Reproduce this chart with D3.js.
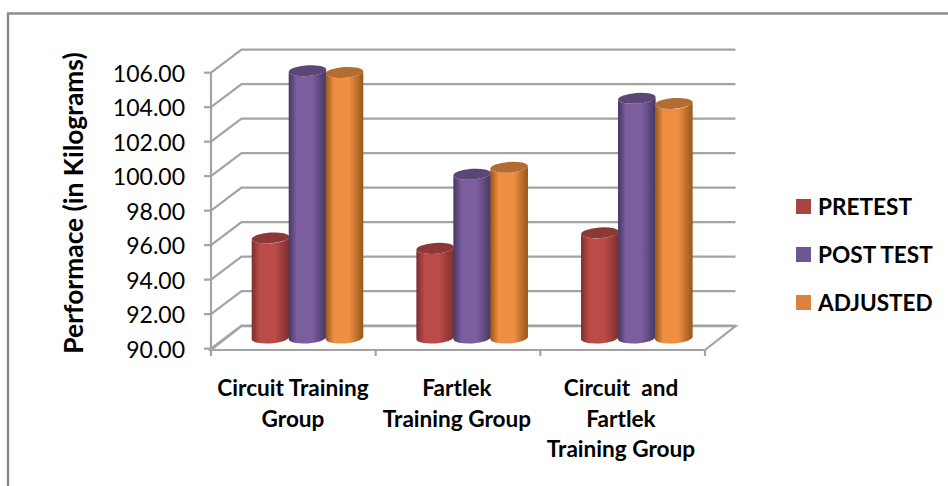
<!DOCTYPE html>
<html>
<head>
<meta charset="utf-8">
<script src="https://cdn.jsdelivr.net/npm/d3@7"></script>
<style>
html,body{margin:0;padding:0;background:#fff}
svg{display:block}
text{font-family:Lato,"Open Sans",sans-serif;fill:#000}
</style>
</head>
<body>
<svg id="chart" width="948" height="486"></svg>
<script>
// Performance by training group, drawn as a pseudo-3D cylinder chart
const groupLabels = [
  ["Circuit Training", "Group"],
  ["Fartlek", "Training Group"],
  ["Circuit  and", "Fartlek", "Training Group"]
];
const groupKeys = ["circuit", "fartlek", "combined"];
const seriesNames = ["PRETEST", "POST TEST", "ADJUSTED"];
const pretest = [95.8, 95.2, 96.1];
const postTest = [105.5, 99.5, 103.9];
const adjusted = [105.4, 99.9, 103.6];
const seriesValues = [pretest, postTest, adjusted];
const yTicks = [90, 92, 94, 96, 98, 100, 102, 104, 106];

const edgeColors = ["#7c2f2d", "#463763", "#96571c"];
const midColors = ["#ba4b48", "#7c5e9f", "#ee8f42"];
const capColors = ["#8b3836", "#5a4775", "#b26d30"];
const legendColors = ["#a94442", "#705593", "#dc823a"];

const svg = d3.select("#chart");
const GRID = "#a3a3a3";

// Chart frame runs off the right and bottom of the page
svg.append("rect").attr("x", 8).attr("y", 13.5).attr("width", 960).attr("height", 500)
  .attr("fill", "#fff").attr("stroke", "#8a8a8a").attr("stroke-width", 2.4);

const depthX = 30.5, depthY = 23;
const y = d3.scaleLinear().domain([90, 106]).range([348.6, 72.7]);
const x = d3.scaleBand().domain(groupKeys).range([211, 705]).paddingInner(0).paddingOuter(0);
const barSlot = d3.scaleBand().domain(seriesNames).range([0, 111]);

// Floor of the 3D box
svg.append("path")
  .attr("d", `M${x.range()[0]},350 L${x.range()[1]},350 L${x.range()[1] + depthX},${350 - depthX * 0.78} L${x.range()[0] + depthX},${350 - depthX * 0.78} Z`)
  .attr("fill", "none").attr("stroke", GRID).attr("stroke-width", 2.2);

// Back wall and side wall gridlines
const grid = svg.append("g").attr("fill", "none").attr("stroke", GRID).attr("stroke-width", 2.2);
yTicks.forEach(t => {
  grid.append("polyline").attr("points", [
    [x.range()[0], y(t)],
    [x.range()[0] + depthX, y(t) - depthY],
    [x.range()[1] + depthX, y(t) - depthY]
  ].map(p => p.join(",")).join(" "));
  grid.append("line").attr("x1", x.range()[0] - 7).attr("x2", x.range()[0])
    .attr("y1", y(t)).attr("y2", y(t));
});
grid.append("line").attr("x1", 211).attr("x2", 211).attr("y1", y(106)).attr("y2", 356);

// Category ticks under the floor
[...groupKeys.map(k => x(k)), x.range()[1]].forEach(px => {
  if (px === x.range()[0]) return;
  grid.append("line").attr("x1", px).attr("x2", px).attr("y1", 350).attr("y2", 356);
});

// Value axis labels
svg.append("g").selectAll("text").data(yTicks).join("text")
  .attr("x", 185).attr("y", d => y(d) + 9)
  .attr("text-anchor", "end").attr("font-size", 23)
  .text(d => d3.format(".2f")(d));

// Horizontal shading that gives each cylinder its round look
const defs = svg.append("defs");
seriesNames.forEach((s, i) => {
  const g = defs.append("linearGradient").attr("id", "cyl" + i)
    .attr("x1", 0).attr("x2", 1).attr("y1", 0).attr("y2", 0);
  g.append("stop").attr("offset", "0%").attr("stop-color", edgeColors[i]);
  g.append("stop").attr("offset", "22%").attr("stop-color", midColors[i]);
  g.append("stop").attr("offset", "62%").attr("stop-color", midColors[i]);
  g.append("stop").attr("offset", "100%").attr("stop-color", edgeColors[i]);
});

const rx = 18.8, ry = 5.4, tilt = -4;
const dyTilt = rx * Math.sin(-tilt * Math.PI / 180);
const baseY = y(90) - 10.6;
const valueOffset = baseY - y(90);

groupKeys.forEach((k, gi) => {
  const g = svg.append("g");
  seriesNames.forEach((s, si) => {
    const cx = x(k) + 41 + barSlot(s) + barSlot.bandwidth() / 2;
    const topY = y(seriesValues[si][gi]) + valueOffset;
    g.append("path")
      .attr("d", `M${cx - rx},${topY + dyTilt} L${cx - rx},${baseY + dyTilt}
        A${rx},${ry} ${tilt} 0 0 ${cx + rx},${baseY - dyTilt}
        L${cx + rx},${topY - dyTilt}
        A${rx},${ry} ${tilt} 0 1 ${cx - rx},${topY + dyTilt} Z`)
      .attr("fill", `url(#cyl${si})`);
    g.append("ellipse")
      .attr("cx", cx).attr("cy", topY).attr("rx", rx).attr("ry", ry)
      .attr("transform", `rotate(${tilt} ${cx} ${topY})`)
      .attr("fill", capColors[si]);
  });
});

// Category labels, one text element per line
const catX = [293, 457, 621];
const labels = svg.append("g").attr("font-weight", 700);
groupLabels.forEach((lines, gi) => {
  lines.forEach((line, li) => {
    labels.append("text")
      .attr("x", catX[gi]).attr("y", 396 + li * 30.5)
      .attr("text-anchor", "middle").attr("font-size", 22.6)
      .attr("xml:space", "preserve").style("white-space", "pre")
      .text(line);
  });
});

// Value axis title
svg.append("text")
  .attr("transform", "translate(82.5,203) rotate(-90)")
  .attr("text-anchor", "middle").attr("font-size", 26.4).attr("font-weight", 700)
  .text("Performace (in Kilograms)");

// Legend
const legend = svg.append("g");
const legendY = d3.scalePoint().domain(seriesNames).range([199, 295]);
seriesNames.forEach((s, i) => {
  legend.append("rect").attr("x", 796).attr("y", legendY(s))
    .attr("width", 15).attr("height", 15).attr("fill", legendColors[i]);
  legend.append("text").attr("x", 818).attr("y", legendY(s) + 16)
    .attr("font-size", 22.6).attr("font-weight", 700).text(s);
});
</script>
</body>
</html>
